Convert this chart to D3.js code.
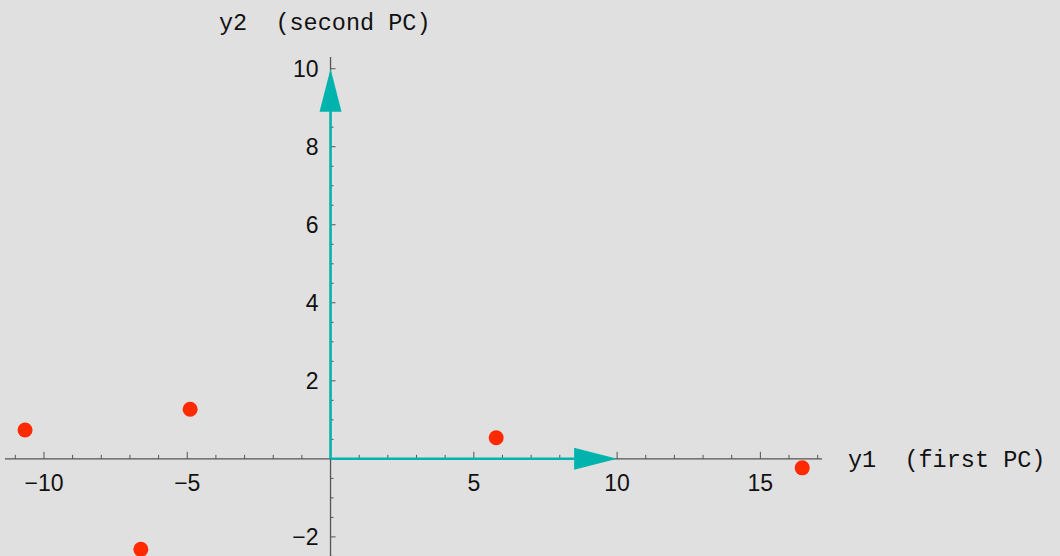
<!DOCTYPE html>
<html>
<head>
<meta charset="utf-8">
<script src="https://cdn.jsdelivr.net/npm/d3@7"></script>
<style>
  html, body { margin: 0; padding: 0; background: #e0e0e0; }
  svg { display: block; }
  .tick-label { font-family: "Liberation Sans", Arial, sans-serif; font-size: 23px; fill: #111; }
  .axis-title { font-family: "Liberation Mono", "Courier New", monospace; font-size: 23.5px; fill: #111; white-space: pre; }
</style>
</head>
<body>
<script>
// Principal component scores of the samples
const pc1Scores = [-10.66, -4.90, -6.62, 5.78, 16.46];
const pc2Scores = [0.74, 1.27, -2.32, 0.54, -0.23];

// Unit-direction arrows drawn along each PC axis (length 10)
const arrowTips = [[10, 0], [0, 10]];

// Tick values and labels
const xMajorTicks = [-10, -5, 5, 10, 15];
const xMajorLabels = ["\u221210", "\u22125", "5", "10", "15"];
const yMajorTicks = [-2, 2, 4, 6, 8, 10];
const yMajorLabels = ["\u22122", "2", "4", "6", "8", "10"];

const xTitle = "y1  (first PC)";
const yTitle = "y2  (second PC)";

const W = 1060, H = 556;
const svg = d3.select("body").append("svg").attr("width", W).attr("height", H);
svg.append("rect").attr("width", W).attr("height", H).attr("fill", "#e0e0e0");

const x = d3.scaleLinear().domain([-11.36, 17.15]).range([5, 822]);
const y = d3.scaleLinear().domain([-2.49, 10.3]).range([556, 57]);

const axisColor = "#555";
const g = svg.append("g");

// Axis lines crossing at the origin
g.append("line")
  .attr("x1", x.range()[0]).attr("x2", x.range()[1])
  .attr("y1", y(0)).attr("y2", y(0))
  .attr("stroke", axisColor).attr("stroke-width", 1.3);
g.append("line")
  .attr("x1", x(0)).attr("x2", x(0))
  .attr("y1", y.range()[0]).attr("y2", y.range()[1])
  .attr("stroke", axisColor).attr("stroke-width", 1.3);

// x ticks: minor every 1, major every 5 (pointing up)
const xMinor = d3.range(-11, 18, 1).filter(v => v !== 0 && xMajorTicks.indexOf(v) < 0);
g.selectAll(".xminor").data(xMinor).join("line")
  .attr("x1", d => x(d)).attr("x2", d => x(d))
  .attr("y1", y(0)).attr("y2", y(0) - 4)
  .attr("stroke", axisColor).attr("stroke-width", 1);
g.selectAll(".xmajor").data(xMajorTicks).join("line")
  .attr("x1", d => x(d)).attr("x2", d => x(d))
  .attr("y1", y(0)).attr("y2", y(0) - 7)
  .attr("stroke", axisColor).attr("stroke-width", 1);
g.selectAll(".xlab").data(xMajorTicks).join("text")
  .attr("class", "tick-label")
  .attr("x", d => x(d)).attr("y", y(0) + 32)
  .attr("text-anchor", "middle")
  .text((d, i) => xMajorLabels[i]);

// y ticks: minor every 0.5, major every 2 (pointing right)
const yMinor = d3.range(-2.5, 10.5, 0.5).filter(v => v !== 0 && yMajorTicks.indexOf(v) < 0);
g.selectAll(".yminor").data(yMinor).join("line")
  .attr("x1", x(0)).attr("x2", x(0) + 3)
  .attr("y1", d => y(d)).attr("y2", d => y(d))
  .attr("stroke", axisColor).attr("stroke-width", 1);
g.selectAll(".ymajor").data(yMajorTicks).join("line")
  .attr("x1", x(0)).attr("x2", x(0) + 5)
  .attr("y1", d => y(d)).attr("y2", d => y(d))
  .attr("stroke", axisColor).attr("stroke-width", 1);
g.selectAll(".ylab").data(yMajorTicks).join("text")
  .attr("class", "tick-label")
  .attr("x", x(0) - 12).attr("y", d => y(d) + 8)
  .attr("text-anchor", "end")
  .text((d, i) => yMajorLabels[i]);

// Axis titles
svg.append("text").attr("class", "axis-title")
  .attr("x", 848).attr("y", y(0) + 8)
  .text(xTitle);
svg.append("text").attr("class", "axis-title")
  .attr("x", 219).attr("y", 30)
  .text(yTitle);

// PC direction arrows
const teal = "#00b4ad";
const headLen = 43, headHalf = 11;
arrowTips.forEach(([tx, ty]) => {
  const x0 = x(0), y0 = y(0), x1 = x(tx), y1 = y(ty);
  const len = Math.hypot(x1 - x0, y1 - y0);
  const ux = (x1 - x0) / len, uy = (y1 - y0) / len;
  const bx = x1 - ux * headLen, by = y1 - uy * headLen;
  g.append("line")
    .attr("x1", x0).attr("y1", y0).attr("x2", bx).attr("y2", by)
    .attr("stroke", teal).attr("stroke-width", 2.5);
  g.append("path")
    .attr("d", `M${x1},${y1}L${bx - uy * headHalf},${by + ux * headHalf}L${bx + uy * headHalf},${by - ux * headHalf}Z`)
    .attr("fill", teal);
});

// Sample points
g.selectAll(".pt").data(pc1Scores).join("circle")
  .attr("cx", d => x(d))
  .attr("cy", (d, i) => y(pc2Scores[i]))
  .attr("r", 7.5)
  .attr("fill", "#ff2a00");
</script>
</body>
</html>
